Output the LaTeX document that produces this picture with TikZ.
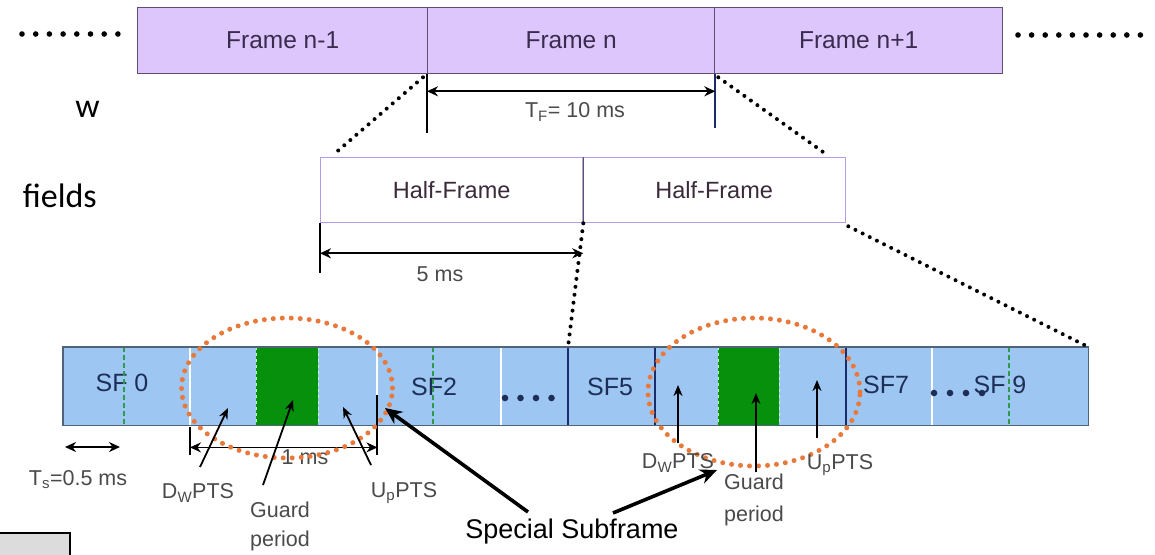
\documentclass[tikz,border=0pt]{standalone}
\usepackage{fontspec}
\setmainfont{Liberation Sans}
\newfontfamily\slidefont{Carlito}
\usetikzlibrary{arrows.meta,shapes.geometric}

\definecolor{framefill}{HTML}{DCC6FB}
\definecolor{frameedge}{HTML}{5E4E70}
\definecolor{frametext}{HTML}{3B2C4F}
\definecolor{halfedge}{HTML}{B49CE6}
\definecolor{halftext}{HTML}{3A2A3A}
\definecolor{barfill}{HTML}{9DC6F2}
\definecolor{baredge}{HTML}{4F6478}
\definecolor{barnavy}{HTML}{1A2C6B}
\definecolor{bargreen}{HTML}{07900C}
\definecolor{gdash}{HTML}{2E9A4A}
\definecolor{sftext}{HTML}{1D2F57}
\definecolor{labelgray}{HTML}{4A4A4A}
\definecolor{ringorange}{HTML}{E8793A}
\definecolor{boxgray}{HTML}{DCDCDC}

\begin{document}
\begin{tikzpicture}[x=1pt,y=-1pt,
  framebox/.style={draw=frameedge,line width=1.3pt,fill=framefill,minimum height=66pt,
    inner sep=0pt,anchor=north west,text=frametext,font=\fontsize{24.5}{28}\selectfont},
  halfbox/.style={draw=halfedge,line width=1.3pt,fill=white,minimum height=65pt,
    inner sep=0pt,anchor=north west,text=halftext,font=\fontsize{23.5}{27}\selectfont},
  seg/.style={fill=barfill,minimum height=78pt,inner sep=0pt,anchor=north west},
  guardbox/.style={fill=bargreen,minimum height=78pt,inner sep=0pt,anchor=north west},
  sflabel/.style={text=sftext,font=\fontsize{25}{30}\selectfont,inner sep=0pt},
  small/.style={text=labelgray,font=\fontsize{21.5}{29}\selectfont,inner sep=0pt,align=center},
  blackdots/.style={line width=4pt,line cap=round,dash pattern=on 0pt off 8pt},
  ring/.style={ellipse,draw=ringorange,line width=5pt,line cap=round,
    dash pattern=on 0pt off 9pt,inner sep=0pt},
  sfmark/.style={gdash,line width=2.2pt,dash pattern=on 5pt off 3pt},
  dim/.style={line width=2pt,{Stealth[length=11pt,width=10pt]}-{Stealth[length=11pt,width=10pt]}},
  tick/.style={line width=2pt},
  pointer/.style={line width=1.8pt,-{Stealth[length=11pt,width=9pt]}},
  bigpointer/.style={line width=3.6pt,-{Stealth[length=17pt,width=15pt]}},
]
\useasboundingbox (0,0) rectangle (1155,554);

% slide text beside the figure
\node[font=\slidefont\fontsize{34}{40}\selectfont,anchor=base east,inner sep=0pt] (wd) at (100,117) {w};
\node[font=\slidefont\fontsize{34}{40}\selectfont,anchor=base east,inner sep=0pt] (fields) at (97,207) {fields};
\node[draw=black,line width=2pt,fill=boxgray,minimum width=80pt,minimum height=30pt,
  anchor=north east,inner sep=0pt] (tab) at (71,532) {};

% radio frames
\node[framebox,minimum width=290pt] (fprev) at (137,7) {Frame n-1};
\node[framebox,minimum width=287pt] (fcur) at (427,7) {Frame n};
\node[framebox,minimum width=288pt] (fnext) at (714,7) {Frame n+1};
\foreach \i in {0,...,7} \fill (22+13.7*\i,34) circle (2.8pt);
\foreach \i in {0,...,9} \fill (1018+13.6*\i,35) circle (2.8pt);

% frame duration
\draw[tick] (fcur.south west) -- ([yshift=-59pt]fcur.south west);
\draw[tick,barnavy] (fcur.south east) -- ([yshift=-54pt]fcur.south east);
\draw[dim] ([yshift=-17pt]fcur.south west) -- ([yshift=-17pt]fcur.south east);
\node[small] (tf) at (575,112) {T\textsubscript{F}= 10 ms};

% half frames
\node[halfbox,minimum width=262pt] (hf1) at (320,157) {Half-Frame};
\node[halfbox,minimum width=263pt] (hf2) at (582,157) {Half-Frame};
\draw[line width=1.3pt,black!65] (hf1.north east) -- (hf1.south east);
\draw[blackdots] ([shift={(-4,3)}]fcur.south west) -- ([shift={(13,-2)}]hf1.north west);
\draw[blackdots] ([shift={(3,3)}]fcur.south east) -- ([shift={(-19,-2)}]hf2.north east);

% half-frame duration
\draw[tick] (hf1.south west) -- ([yshift=-50pt]hf1.south west);
\draw[dim] ([yshift=-30pt]hf1.south west) -- ([yshift=-30pt]hf1.south east);
\node[small] (five) at (440,274) {5 ms};

% subframes
\node[seg,minimum width=127pt] (sf0) at (63,347) {};
\node[seg,minimum width=187pt] (sp1) at (190,347) {};
\node[seg,minimum width=124pt] (sf2) at (377,347) {};
\node[seg,minimum width=67pt] (sf34) at (501,347) {};
\node[seg,minimum width=87pt] (sf5) at (568,347) {};
\node[seg,minimum width=191pt] (sp6) at (655,347) {};
\node[seg,minimum width=86pt] (sf7) at (846,347) {};
\node[seg,minimum width=156pt] (sf89) at (932,347) {};
\node[guardbox,minimum width=62pt] (gp1) at (256,347) {};
\node[guardbox,minimum width=61pt] (gp2) at (718,347) {};
\foreach \g in {gp1,gp2} {
  \draw[white!75!green,dashed,line width=1pt] (\g.north west) -- (\g.south west);
  \draw[white!75!green,dashed,line width=1pt] (\g.north east) -- (\g.south east);
}
\draw[white,line width=2pt] (sp1.north west) -- (sp1.south west);
\draw[white,line width=2pt] (sf2.north west) -- ([yshift=-48pt]sf2.north west);
\draw[white,line width=2pt] (sf34.north west) -- (sf34.south west);
\draw[white,line width=2pt] (sf89.north west) -- (sf89.south west);
\draw[barnavy,line width=2.6pt] (sf5.north west) -- (sf5.south west);
\draw[barnavy,line width=2.6pt] (sp6.north west) -- (sp6.south west);
\draw[barnavy,line width=2.6pt] (sf7.north west) -- (sf7.south west);

\node[sflabel] (l0) at (122,383) {SF 0};
\node[sflabel] (l2) at (434,387) {SF2};
\node[sflabel] (l5) at (610,387) {SF5};
\node[sflabel] (l7) at (886,385) {SF7};
\foreach \i in {0,...,3} \fill[sftext] (505+15.5*\i,398) circle (3.3pt);
\foreach \i in {0,...,3} \fill[sftext] (934+16*\i,393) circle (3.3pt);
\node[sflabel] (l9) at (1000,385) {SF 9};

\draw[sfmark] ([xshift=61pt]sf0.north west) -- ([xshift=61pt]sf0.south west);
\draw[sfmark] ([xshift=56pt]sf2.north west) -- ([xshift=56pt]sf2.south west);
\draw[sfmark] ([xshift=77pt]sf89.north west) -- ([xshift=77pt]sf89.south west);
\draw[baredge,line width=1.4pt] (sf0.north west) rectangle (sf89.south east);

\draw[blackdots] (hf1.south east) -- (sf5.north west);
\draw[blackdots] ([shift={(2,3)}]hf2.south east) -- (sf89.north east);

% subframe durations
\coordinate (tsl) at (65,447);
\coordinate (tsr) at (120,447);
\draw[dim,line width=1.8pt] (tsl) -- (tsr);
\node[small] (ts) at (78,480) {T\textsubscript{s}=0.5 ms};
\draw[tick] ([yshift=-2pt]sp1.south west) -- ([yshift=-30pt]sp1.south west);
\draw[tick] ([yshift=-48pt]sf2.north west) -- ([yshift=-30pt]sf2.south west);
\draw[dim,line width=1.5pt] ([yshift=-22pt]sp1.south west) -- ([yshift=-22pt]sp1.south east);
\node[small] (onems) at (305,457) {1 ms};

% special subframes
\node[ring,minimum width=211pt,minimum height=140pt] (ring1) at (287,388) {};
\node[ring,minimum width=212pt,minimum height=148pt] (ring2) at (754,392) {};

\node[small] (dw1) at (198,493) {D\textsubscript{W}PTS};
\node[small] (gd1) at (280,526) {Guard\\period};
\node[small] (up1) at (404,493) {U\textsubscript{p}PTS};
\coordinate (dw1a) at (200,467);  \coordinate (dw1b) at (228,408);
\coordinate (gd1a) at (263,485);  \coordinate (gd1b) at (293,400);
\coordinate (up1a) at (371,465);  \coordinate (up1b) at (343,407);
\draw[pointer] (dw1a) -- (dw1b);
\draw[pointer] (gd1a) -- (gd1b);
\draw[pointer] (up1a) -- (up1b);

\node[small] (dw2) at (678,463) {D\textsubscript{W}PTS};
\node[small,font=\fontsize{21.5}{32}\selectfont] (gd2) at (754,500) {Guard\\period};
\node[small] (up2) at (840,465) {U\textsubscript{p}PTS};
\coordinate (dw2a) at (678,443);  \coordinate (dw2b) at (678,385);
\coordinate (gd2a) at (756,472);  \coordinate (gd2b) at (756,393);
\coordinate (up2a) at (817,438);  \coordinate (up2b) at (817,380);
\draw[pointer] (dw2a) -- (dw2b);
\draw[pointer] (gd2a) -- (gd2b);
\draw[pointer] (up2a) -- (up2b);

\node[font=\fontsize{27}{32}\selectfont,inner sep=0pt] (special) at (572,532) {Special Subframe};
\coordinate (ss1a) at (528,512);  \coordinate (ss1b) at (385,408);
\coordinate (ss2a) at (613,513);  \coordinate (ss2b) at (717,470);
\draw[bigpointer] (ss1a) -- (ss1b);
\draw[bigpointer] (ss2a) -- (ss2b);
\end{tikzpicture}
\end{document}
